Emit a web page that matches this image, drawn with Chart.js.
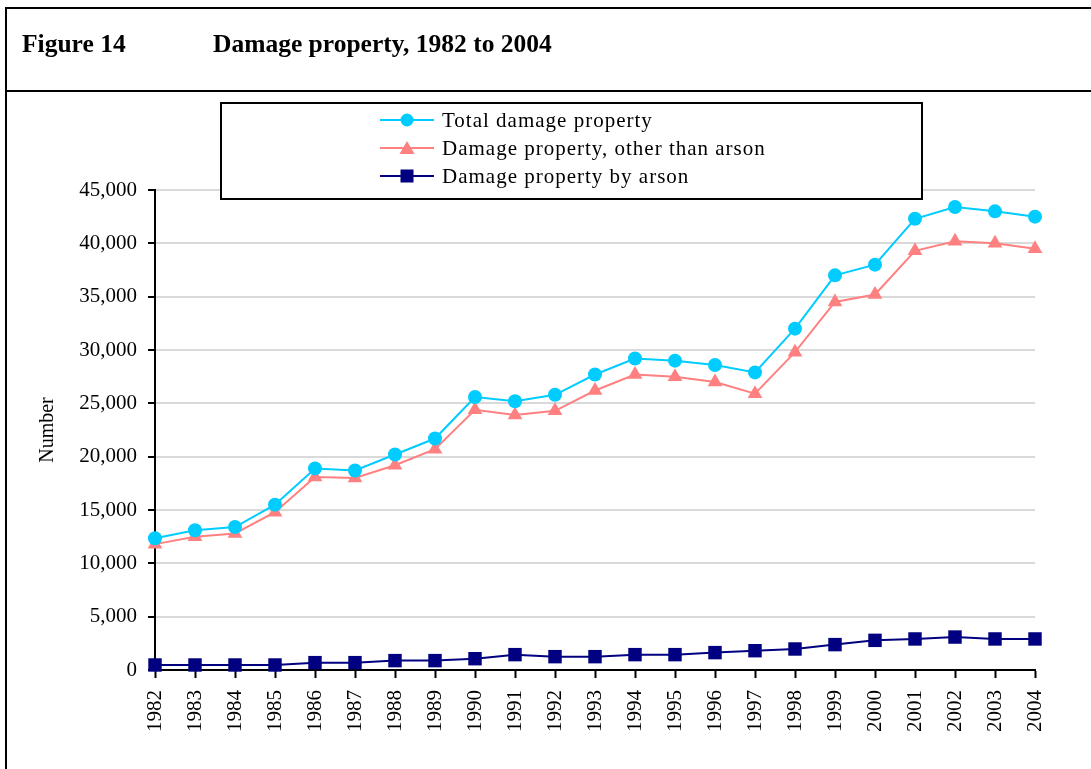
<!DOCTYPE html>
<html>
<head>
<meta charset="utf-8">
<script src="https://cdn.jsdelivr.net/npm/chart.js@4"></script>
<style>
  body { margin: 0; background: #fff; }
  #wrap { position: relative; width: 1091px; height: 769px; overflow: hidden; font-family: "Liberation Serif", "Times New Roman", serif; }
  #chart { position: absolute; left: 0; top: 0; }
  .frame { position: absolute; left: 5px; top: 7px; width: 1200px; height: 900px; border-left: 2px solid #000; border-top: 2px solid #000; }
  .rule { position: absolute; left: 5px; top: 90px; width: 1200px; height: 0; border-top: 2px solid #000; }
  .title { position: absolute; top: 31px; font-size: 25.5px; font-weight: bold; line-height: 1; white-space: nowrap; }
  #legend { position: absolute; left: 220px; top: 102px; width: 703px; height: 98px; box-sizing: border-box; border: 2px solid #000; background: #fff; padding: 2px 0 0 158px; }
  .item { height: 28px; line-height: 28px; font-size: 21px; letter-spacing: 1px; white-space: nowrap; }
  .item svg { vertical-align: top; margin-right: 8px; }
</style>
</head>
<body>
<div id="wrap">
  <canvas id="chart" width="1091" height="769"></canvas>
  <div class="frame"></div>
  <div class="rule"></div>
  <div class="title" style="left:22px">Figure 14</div>
  <div class="title" style="left:213px">Damage property, 1982 to 2004</div>
  <div id="legend"></div>
</div>
<script>
const years = ["1982", "1983", "1984", "1985", "1986", "1987", "1988", "1989", "1990", "1991", "1992", "1993",
  "1994", "1995", "1996", "1997", "1998", "1999", "2000", "2001", "2002", "2003", "2004"];

const totalDamage = [12350, 13100, 13400, 15500, 18900, 18700, 20200, 21700, 25600, 25200, 25800, 27700,
  29200, 29000, 28600, 27900, 32000, 37000, 38000, 42300, 43400, 43000, 42500];

const otherThanArson = [11800, 12500, 12800, 14800, 18100, 18000, 19200, 20700, 24400, 23900, 24300, 26200,
  27700, 27500, 27000, 25900, 29800, 34500, 35200, 39300, 40200, 40000, 39500];

const byArson = [470, 470, 470, 470, 690, 690, 880, 880, 1060, 1440, 1250, 1250,
  1440, 1440, 1630, 1810, 1970, 2380, 2780, 2910, 3090, 2910, 2910];

const yTicks = [0, 5000, 10000, 15000, 20000, 25000, 30000, 35000, 40000, 45000];

const serif = "'Liberation Serif', 'Times New Roman', serif";

const datasets = [
  { label: "Total damage property", data: totalDamage, borderColor: "#00ccff", backgroundColor: "#00ccff", pointStyle: "circle", pointRadius: 7 },
  { label: "Damage property, other than arson", data: otherThanArson, borderColor: "#ff8080", backgroundColor: "#ff8080", pointStyle: "triangle", pointRadius: 8.5 },
  { label: "Damage property by arson", data: byArson, borderColor: "#000080", backgroundColor: "#000080", pointStyle: "rect", pointRadius: 9.5 },
].map((d) => ({ ...d, borderWidth: 2, pointBorderWidth: 0, pointHoverRadius: d.pointRadius, tension: 0, clip: false }));

// legend built from the datasets (sample line + marker + label)
function markerSvg(ds) {
  const c = ds.borderColor;
  let shape = "";
  if (ds.pointStyle === "circle") shape = `<circle cx="27" cy="14" r="6.5" fill="${c}"/>`;
  else if (ds.pointStyle === "triangle") shape = `<polygon points="27,7 34.5,20 19.5,20" fill="${c}"/>`;
  else shape = `<rect x="20.5" y="7.5" width="13" height="13" fill="${c}"/>`;
  return `<svg width="54" height="28"><line x1="0" y1="14" x2="54" y2="14" stroke="${c}" stroke-width="2"/>${shape}</svg>`;
}
document.getElementById("legend").innerHTML = datasets
  .map((ds) => `<div class="item">${markerSvg(ds)}<span>${ds.label}</span></div>`)
  .join("");

new Chart(document.getElementById("chart"), {
  type: "line",
  data: { labels: years, datasets: datasets },
  options: {
    responsive: false,
    animation: false,
    devicePixelRatio: 1,
    layout: { padding: { left: 0, top: 190, right: 56, bottom: 0 } },
    plugins: {
      legend: { display: false },
      tooltip: { enabled: false },
    },
    scales: {
      x: {
        offset: false,
        grid: { drawOnChartArea: false, tickLength: 8, tickColor: "#000", tickWidth: 2 },
        border: { color: "#000", width: 2 },
        ticks: { minRotation: 90, maxRotation: 90, padding: 12, color: "#000", font: { family: serif, size: 21 } },
        afterFit: (scale) => { scale.height = 99; },
      },
      y: {
        min: 0,
        max: 45000,
        afterBuildTicks: (scale) => { scale.ticks = yTicks.map((v) => ({ value: v })); },
        grid: { color: "#d9d9d9", lineWidth: 2, tickLength: 7, tickColor: "#000", tickWidth: 2 },
        border: { color: "#000", width: 2 },
        ticks: {
          padding: 11,
          color: "#000",
          font: { family: serif, size: 21 },
          callback: (v) => Number(v).toLocaleString("en-US"),
        },
        title: { display: true, text: "Number", color: "#000", font: { family: serif, size: 20 }, padding: { top: 36, bottom: 0 } },
        afterFit: (scale) => { scale.width = 155; },
      },
    },
  },
});
</script>
</body>
</html>
